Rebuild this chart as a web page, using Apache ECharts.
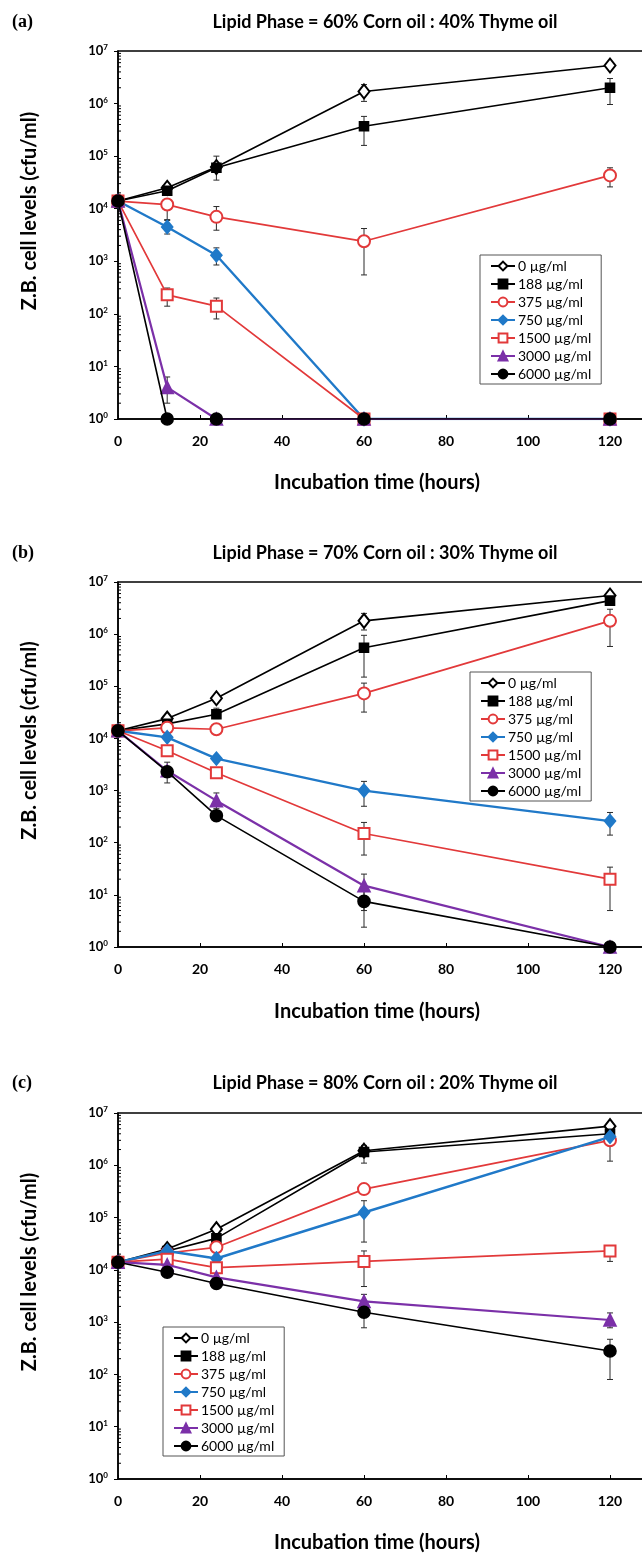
<!DOCTYPE html>
<html>
<head>
<meta charset="utf-8">
<script src="https://cdn.jsdelivr.net/npm/echarts@6/dist/echarts.min.js"></script>
<style>
  html, body { margin: 0; padding: 0; background: #fff; overflow: hidden; }
  #chart { width: 720px; height: 1554px; }
</style>
</head>
<body>
<div id="chart"></div>
<script>
// Incubation times (hours)
const times = [0, 12, 24, 60, 120];
const doses = ['0 µg/ml', '188 µg/ml', '375 µg/ml', '750 µg/ml', '1500 µg/ml', '3000 µg/ml', '6000 µg/ml'];
const panelTitles = [
  'Lipid Phase = 60% Corn oil : 40% Thyme oil',
  'Lipid Phase = 70% Corn oil : 30% Thyme oil',
  'Lipid Phase = 80% Corn oil : 20% Thyme oil'
];
const panelTags = ['(a)', '(b)', '(c)'];
const xTicks = [0, 20, 40, 60, 80, 100, 120];

// Z.B. cell levels (cfu/ml); 1 = none detected
// (a) 60% corn oil : 40% thyme oil
const a0    = [1.4e4, 2.5e4, 6.2e4, 1.7e6, 5.3e6];
const a188  = [1.4e4, 2.2e4, 6.0e4, 3.7e5, 2.0e6];
const a375  = [1.4e4, 1.2e4, 7.0e3, 2.4e3, 4.3e4];
const a750  = [1.4e4, 4.5e3, 1.3e3, 1, 1];
const a1500 = [1.4e4, 2.3e2, 1.4e2, 1, 1];
const a3000 = [1.4e4, 4, 1, 1, 1];
const a6000 = [1.4e4, 1, 1, 1, 1];
// (b) 70% corn oil : 30% thyme oil
const b0    = [1.4e4, 2.4e4, 5.9e4, 1.8e6, 5.5e6];
const b188  = [1.4e4, 1.9e4, 2.9e4, 5.5e5, 4.4e6];
const b375  = [1.4e4, 1.6e4, 1.5e4, 7.3e4, 1.8e6];
const b750  = [1.4e4, 1.05e4, 4.1e3, 1.0e3, 2.6e2];
const b1500 = [1.4e4, 5.8e3, 2.2e3, 1.5e2, 20];
const b3000 = [1.4e4, 2.4e3, 6.4e2, 15, 1];
const b6000 = [1.4e4, 2.3e3, 3.3e2, 7.5, 1];
// (c) 80% corn oil : 20% thyme oil
const c0    = [1.4e4, 2.5e4, 6.0e4, 1.9e6, 5.6e6];
const c188  = [1.4e4, 2.3e4, 4.0e4, 1.8e6, 4.0e6];
const c375  = [1.4e4, 2.1e4, 2.7e4, 3.5e5, 3.0e6];
const c750  = [1.4e4, 2.3e4, 1.65e4, 1.25e5, 3.5e6];
const c1500 = [1.4e4, 1.6e4, 1.1e4, 1.45e4, 2.3e4];
const c3000 = [1.4e4, 1.25e4, 7.2e3, 2.5e3, 1.1e3];
const c6000 = [1.4e4, 9.0e3, 5.5e3, 1.55e3, 2.8e2];

// Error bars: [time, low, high]
const errA = [
  [12, 2.1e4, 3.0e4], [24, 3.5e4, 1.0e5], [60, 1.1e6, 2.3e6], [120, 4.5e6, 6.2e6],
  [60, 1.6e5, 5.7e5], [120, 9.6e5, 3.0e6],
  [12, 6.0e3, 1.5e4], [24, 3.9e3, 1.1e4], [60, 5.5e2, 4.2e3], [120, 2.6e4, 6.0e4],
  [12, 3.3e3, 6.2e3], [24, 8.5e2, 1.8e3],
  [12, 1.4e2, 3.1e2], [24, 80, 2.0e2],
  [12, 2, 6.3]
];
const errB = [
  [60, 1.2e6, 2.5e6], [120, 4.8e6, 6.2e6],
  [24, 2.4e4, 3.8e4], [60, 1.5e5, 9.5e5],
  [60, 3.2e4, 1.15e5], [120, 5.8e5, 3.0e6],
  [60, 5.0e2, 1.5e3], [120, 1.4e2, 3.8e2],
  [60, 58, 2.45e2], [120, 5, 34],
  [24, 4.5e2, 9.0e2], [60, 5, 25],
  [12, 1.4e3, 3.5e3], [60, 2.4, 12]
];
const errC = [
  [60, 1.1e6, 2.4e6], [120, 4.6e6, 6.4e6],
  [120, 1.2e6, 4.5e6],
  [60, 3.4e4, 2.1e5],
  [60, 4.8e3, 2.3e4], [120, 1.45e4, 2.9e4],
  [60, 1.9e3, 3.4e3], [120, 7.8e2, 1.5e3],
  [60, 7.8e2, 2.3e3], [120, 80, 4.7e2]
];

const panelData = [
  [a0, a188, a375, a750, a1500, a3000, a6000],
  [b0, b188, b375, b750, b1500, b3000, b6000],
  [c0, c188, c375, c750, c1500, c3000, c6000]
];
const panelErr = [errA, errB, errC];

// log-axis minor tick positions (2..9 within each decade)
const minorTicks = [];
for (let e = 0; e < 7; e++) {
  for (let k = 2; k <= 9; k++) minorTicks.push(k * Math.pow(10, e));
}

const RED = '#e2393a', BLUE = '#2079c8', PURPLE = '#7b30a8';
const seriesStyle = [
  { symbol: 'emptyDiamond', size: [11, 14], color: '#000', width: 1.6 },
  { symbol: 'rect',         size: 9,        color: '#000', width: 1.6 },
  { symbol: 'emptyCircle',  size: 12,       color: RED,    width: 1.7 },
  { symbol: 'diamond',      size: [11, 13], color: BLUE,   width: 2.4 },
  { symbol: 'emptyRect',    size: 11,       color: RED,    width: 1.7 },
  { symbol: 'triangle',     size: 12,       color: PURPLE, width: 2.2 },
  { symbol: 'circle',       size: 12,       color: '#000', width: 1.6 }
];

const FONT = 'Lato, "Open Sans", sans-serif';
const grids = [
  { left: 118, top: 51,   width: 574, height: 368 },
  { left: 118, top: 582,  width: 574, height: 365 },
  { left: 118, top: 1113, width: 574, height: 366 }
];
const titleY = [22, 553, 1083];
const xNameY = [483, 1012, 1543];
const legendPos = [
  { left: 480, top: 255 },
  { left: 470, top: 672 },
  { left: 163, top: 1327 }
];

const option = {
  animation: false,
  backgroundColor: '#fff',
  grid: grids.map(g => Object.assign({ show: true, borderColor: '#000', borderWidth: 1.5, backgroundColor: 'transparent' }, g)),
  xAxis: grids.map((g, i) => ({
    gridIndex: i, type: 'value', min: 0, max: 140, interval: 20,
    axisLine: { lineStyle: { color: '#000', width: 1.5 } },
    axisTick: { inside: true, length: 4, lineStyle: { color: '#000' } },
    splitLine: { show: false },
    axisLabel: {
      margin: 15, color: '#000', fontFamily: FONT, fontWeight: 'bold', fontSize: 14,
      formatter: v => (xTicks.indexOf(v) >= 0 ? String(v) : '')
    }
  })),
  yAxis: grids.map((g, i) => ({
    gridIndex: i, type: 'log', logBase: 10, min: 1, max: 1e7, splitNumber: 7,
    axisLine: { show: true, lineStyle: { color: '#000', width: 1.5 } },
    axisTick: { show: true, inside: false, length: 4, lineStyle: { color: '#000' } },
    splitLine: { show: false },
    axisLabel: {
      margin: 10, color: '#000',
      formatter: v => '{b|10}{s|' + Math.round(Math.log10(v)) + '}',
      rich: {
        b: { fontFamily: FONT, fontWeight: 'bold', fontSize: 13, color: '#000' },
        s: { fontFamily: FONT, fontWeight: 'bold', fontSize: 8, color: '#000', padding: [0, 0, 7, 0] }
      }
    }
  })),
  legend: legendPos.map(p => ({
    orient: 'vertical', left: p.left, top: p.top,
    data: doses,
    itemWidth: 24, itemHeight: 11, itemGap: 4,
    padding: [4, 10, 3, 10],
    borderColor: '#555', borderWidth: 1, backgroundColor: '#fff',
    selectedMode: false,
    textStyle: { color: '#000', fontFamily: FONT, fontSize: 14, lineHeight: 13, padding: [0, 0, 0, -2] }
  })),
  graphic: [],
  series: []
};

panelTitles.forEach((t, i) => {
  const g = grids[i];
  option.graphic.push({
    type: 'text', x: 385, y: titleY[i],
    style: { text: t, textAlign: 'center', textVerticalAlign: 'middle', fill: '#000',
             font: 'bold 18px ' + FONT }
  });
  option.graphic.push({
    type: 'text', x: 12, y: titleY[i],
    style: { text: panelTags[i], textAlign: 'left', textVerticalAlign: 'middle', fill: '#000',
             font: 'bold 18px "Liberation Serif", "DejaVu Serif", serif' }
  });
  option.graphic.push({
    type: 'text', x: 377, y: xNameY[i],
    style: { text: 'Incubation time (hours)', textAlign: 'center', textVerticalAlign: 'middle', fill: '#000',
             font: 'bold 20px ' + FONT }
  });
  option.graphic.push({
    type: 'text', x: 30, y: g.top + g.height / 2 - 24, rotation: Math.PI / 2,
    style: { text: 'Z.B. cell levels (cfu/ml)', textAlign: 'center', textVerticalAlign: 'middle', fill: '#000',
             font: 'bold 20px ' + FONT }
  });
});

panelData.forEach((set, p) => {
  // minor ticks on the log axis
  option.series.push({
    type: 'custom', xAxisIndex: p, yAxisIndex: p, silent: true, z: 1,
    data: minorTicks.map(v => [0, v]),
    renderItem: (params, api) => {
      const pt = api.coord([0, api.value(1)]);
      return { type: 'line', shape: { x1: pt[0], y1: pt[1], x2: pt[0] + 3, y2: pt[1] },
               style: { stroke: '#000', lineWidth: 1 } };
    }
  });
  // error bars
  option.series.push({
    type: 'custom', xAxisIndex: p, yAxisIndex: p, silent: true, z: 2,
    data: panelErr[p],
    renderItem: (params, api) => {
      const lo = api.coord([api.value(0), api.value(1)]);
      const hi = api.coord([api.value(0), api.value(2)]);
      const st = { stroke: '#2a2a2a', lineWidth: 1 };
      return { type: 'group', children: [
        { type: 'line', shape: { x1: lo[0], y1: lo[1], x2: hi[0], y2: hi[1] }, style: st },
        { type: 'line', shape: { x1: lo[0] - 3, y1: lo[1], x2: lo[0] + 3, y2: lo[1] }, style: st },
        { type: 'line', shape: { x1: hi[0] - 3, y1: hi[1], x2: hi[0] + 3, y2: hi[1] }, style: st }
      ] };
    }
  });
  set.forEach((vals, k) => {
    const s = seriesStyle[k];
    option.series.push({
      type: 'line', name: doses[k], xAxisIndex: p, yAxisIndex: p, z: 3 + k,
      data: times.map((t, j) => [t, vals[j]]),
      symbol: s.symbol, symbolSize: s.size, showAllSymbol: true,
      lineStyle: { color: s.color, width: s.width },
      itemStyle: { color: s.color, borderColor: s.color, borderWidth: 1.6 },
      emphasis: { disabled: true }
    });
  });
});

const chart = echarts.init(document.getElementById('chart'), null, { renderer: 'canvas' });
chart.setOption(option);
</script>
</body>
</html>
